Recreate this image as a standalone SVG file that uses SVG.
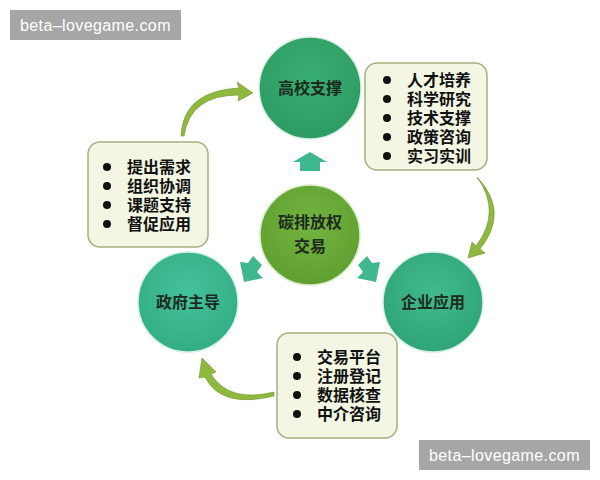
<svg xmlns="http://www.w3.org/2000/svg" width="600" height="480" viewBox="0 0 600 480">
<defs>
<style>
.wm{fill:#a6a6a6}
.wmt{fill:#fff;font-family:"Liberation Sans",Arial,sans-serif;font-size:16px;letter-spacing:0.4px}
.ct{font-family:"Liberation Sans","Noto Sans CJK SC",sans-serif;font-size:16px;font-weight:bold;fill:#1d2b1f;text-anchor:middle}
.box{fill:#f2f6e2;stroke:#a3b07c;stroke-width:1.5}
.lt{font-family:"Liberation Sans","Noto Sans CJK SC",sans-serif;font-size:16px;font-weight:bold;fill:#111}
.dot{fill:#111}
.blk{fill:#3fb890}
.crv{fill:#8fb83e;stroke:#6f9130;stroke-width:0.6}
</style>
<radialGradient id="gTop" cx="50%" cy="40%" r="60%"><stop offset="0" stop-color="#3aae72"/><stop offset="1" stop-color="#2e9c62"/></radialGradient>
<radialGradient id="gCen" cx="50%" cy="40%" r="60%"><stop offset="0" stop-color="#74b540"/><stop offset="1" stop-color="#5f9f31"/></radialGradient>
<radialGradient id="gL" cx="50%" cy="40%" r="60%"><stop offset="0" stop-color="#44c29c"/><stop offset="1" stop-color="#34ad85"/></radialGradient>
<radialGradient id="gR" cx="50%" cy="40%" r="60%"><stop offset="0" stop-color="#40bb8d"/><stop offset="1" stop-color="#2fa577"/></radialGradient>
</defs>
<rect width="600" height="480" fill="#fff"/>

<g id="connectors">
<path class="blk" d="M310 152 L327 162 L320 162 L320 171 L300 171 L300 162 L293 162 Z"/>
<path class="blk" d="M240 262 L244 282 L263 278 L257 272 L262 265 L253 256 L248 263 Z"/>
<path class="blk" d="M380 262 L376 282 L357 278 L363 272 L358 265 L367 256 L372 263 Z"/>
<path class="crv" d="M181 136 Q183 91 239 88 L237 82 L253 93 L238 101 L239 95 Q190 95 184 136 Z"/>
<path class="crv" d="M477 177 Q510 212 480 249 L485 253 L468 258 L472 242 L476 246 Q502 212 477 177 Z"/>
<path class="crv" d="M274 392 Q229 403 211 374 L216 372 L202 358 L199 378 L205 377 Q221 409 274 396 Z"/>
</g>

<g id="n-top">
<circle cx="310" cy="88" r="51" fill="url(#gTop)" stroke="#d9efe3" stroke-width="1.5"/>
<text class="ct" x="310" y="94">高校支撑</text>
</g>
<g id="n-center">
<circle cx="310" cy="235" r="50" fill="url(#gCen)" stroke="#d9ecc8" stroke-width="1.5"/>
<text class="ct" x="310" y="228"><tspan x="310">碳排放权</tspan><tspan x="310" dy="24">交易</tspan></text>
</g>
<g id="n-left">
<circle cx="188" cy="302" r="50" fill="url(#gL)" stroke="#d5f0e6" stroke-width="1.5"/>
<text class="ct" x="188" y="308">政府主导</text>
</g>
<g id="n-right">
<circle cx="433" cy="302" r="50" fill="url(#gR)" stroke="#d5f0e6" stroke-width="1.5"/>
<text class="ct" x="433" y="308">企业应用</text>
</g>

<g id="box-top">
<rect class="box" x="365" y="63" width="122" height="107" rx="12"/>
<circle class="dot" cx="387" cy="80" r="4"/>
<circle class="dot" cx="387" cy="99" r="4"/>
<circle class="dot" cx="387" cy="118" r="4"/>
<circle class="dot" cx="387" cy="137" r="4"/>
<circle class="dot" cx="387" cy="156" r="4"/>
<text class="lt" x="407" y="86"><tspan x="407">人才培养</tspan><tspan x="407" dy="19">科学研究</tspan><tspan x="407" dy="19">技术支撑</tspan><tspan x="407" dy="19">政策咨询</tspan><tspan x="407" dy="19">实习实训</tspan></text>
</g>
<g id="box-left">
<rect class="box" x="88" y="142" width="120" height="105" rx="12"/>
<circle class="dot" cx="107" cy="167" r="4"/>
<circle class="dot" cx="107" cy="186" r="4"/>
<circle class="dot" cx="107" cy="205" r="4"/>
<circle class="dot" cx="107" cy="224" r="4"/>
<text class="lt" x="127" y="173"><tspan x="127">提出需求</tspan><tspan x="127" dy="19">组织协调</tspan><tspan x="127" dy="19">课题支持</tspan><tspan x="127" dy="19">督促应用</tspan></text>
</g>
<g id="box-bottom">
<rect class="box" x="277" y="333" width="120" height="105" rx="12"/>
<circle class="dot" cx="297" cy="357" r="4"/>
<circle class="dot" cx="297" cy="376" r="4"/>
<circle class="dot" cx="297" cy="395" r="4"/>
<circle class="dot" cx="297" cy="414" r="4"/>
<text class="lt" x="317" y="363"><tspan x="317">交易平台</tspan><tspan x="317" dy="19">注册登记</tspan><tspan x="317" dy="19">数据核查</tspan><tspan x="317" dy="19">中介咨询</tspan></text>
</g>

<g id="watermarks">
<rect class="wm" x="10" y="10" width="171" height="30"/>
<text class="wmt" x="20" y="31">beta–lovegame.com</text>
<rect class="wm" x="419" y="440" width="171" height="30"/>
<text class="wmt" x="429" y="461">beta–lovegame.com</text>
</g>
</svg>
